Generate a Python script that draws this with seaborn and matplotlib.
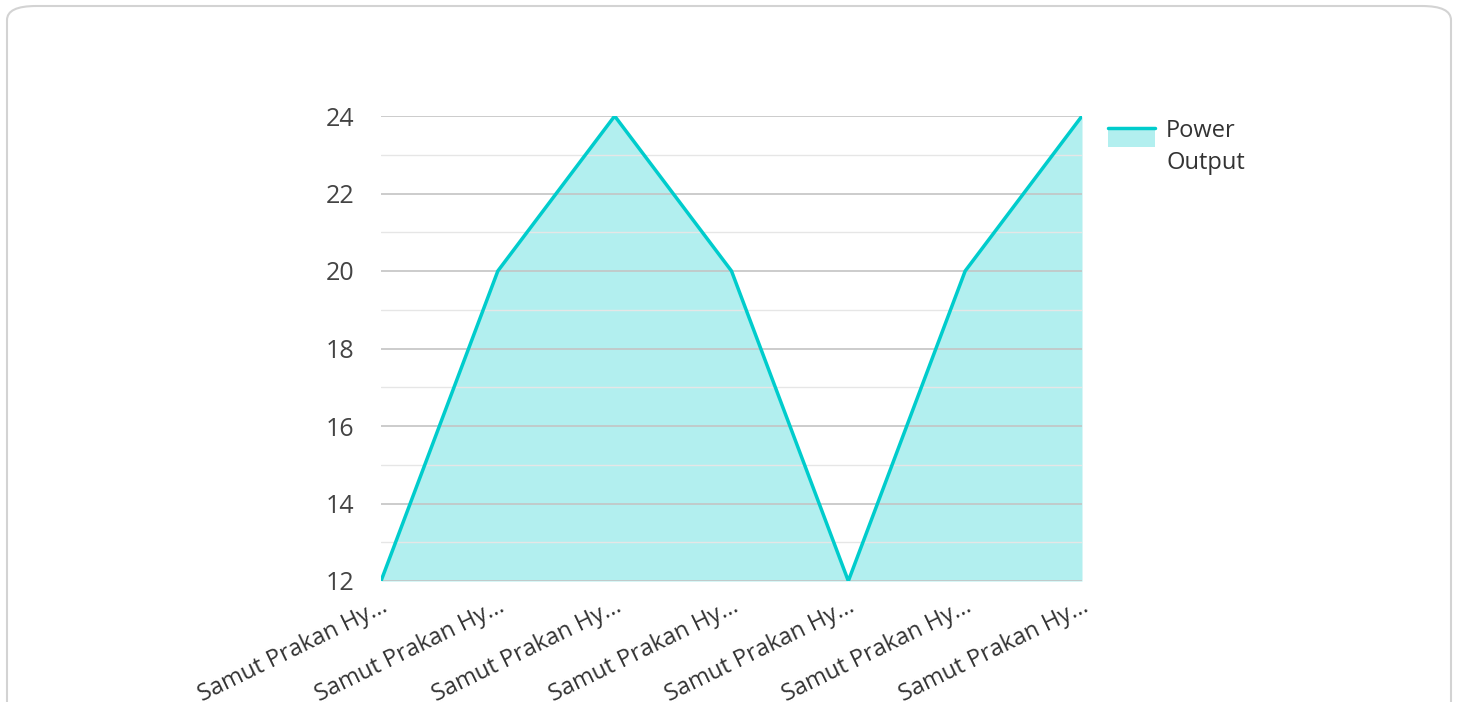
import numpy as np
import matplotlib
matplotlib.use("Agg")
import matplotlib.pyplot as plt
import seaborn as sns
from matplotlib.patches import FancyBboxPatch, Rectangle
from matplotlib.lines import Line2D
from matplotlib.legend_handler import HandlerBase

plants = ["Samut Prakan Hy…"] * 7
power_output = [12, 20, 24, 20, 12, 20, 24]
series_name = "Power\nOutput"

line_color = "#00cccc"
fill_color = "#b2efef"

sns.set_style("white")
plt.rcParams["font.family"] = ["Open Sans", "DejaVu Sans"]

fig = plt.figure(figsize=(14.58, 7.02), dpi=100)
card = FancyBboxPatch((7 / 1458, -0.05), 1444 / 1458, 1 - 6 / 702 + 0.05,
                      boxstyle="round,pad=0,rounding_size=0.02",
                      transform=fig.transFigure, facecolor="none",
                      edgecolor="#d3d3d3", linewidth=1.5, zorder=-1)
fig.patches.append(card)

ax = fig.add_axes([381 / 1458, 1 - 581 / 702, (1082 - 381) / 1458, (581 - 116) / 702])
ax.set_facecolor("none")

x = np.arange(len(power_output))
ax.fill_between(x, power_output, 12, color=fill_color, linewidth=0, zorder=1)
sns.lineplot(x=x, y=power_output, ax=ax, color=line_color, linewidth=2.5,
             zorder=3, legend=False)

ax.set_xlim(0, len(power_output) - 1)
ax.set_ylim(12, 24)
ax.set_yticks(range(12, 25, 2))
ax.set_yticks(range(13, 25, 2), minor=True)
ax.grid(which="major", axis="y", color="#c4c4c4", linewidth=1.2, zorder=2)
ax.grid(which="minor", axis="y", color="#e6e6e6", linewidth=1.0, zorder=2)
ax.set_axisbelow(False)
for s in ax.spines.values():
    s.set_visible(False)

ax.set_xticks(x)
ax.set_xticklabels(plants, rotation=26, ha="right", va="top",
                   rotation_mode="anchor", fontsize=17, color="#333333")
ax.tick_params(axis="x", length=0, pad=10)
ax.tick_params(axis="y", which="both", length=0, pad=19, labelsize=18,
               labelcolor="#444444")
ax.set_xlabel("")
ax.set_ylabel("")


class AreaHandler(HandlerBase):
    def create_artists(self, legend, orig_handle, xdescent, ydescent,
                       width, height, fontsize, trans):
        lift = fontsize * 0.55
        top = height + lift
        bot = -ydescent + lift - height * 0.35
        rect = Rectangle((-xdescent, bot), width, top - bot,
                         facecolor=fill_color, edgecolor="none", transform=trans)
        ln = Line2D([-xdescent, -xdescent + width], [-ydescent + top] * 2,
                    color=line_color, linewidth=2.5, transform=trans)
        return [rect, ln]


handle = Rectangle((0, 0), 1, 1)
leg = fig.legend([handle], [series_name], handler_map={Rectangle: AreaHandler()},
                 loc="upper left", bbox_to_anchor=(1087 / 1458, 1 - 98 / 702),
                 frameon=False, fontsize=17, handlelength=2.0, handleheight=0.55,
                 handletextpad=0.45, labelcolor="#333333")
for t in leg.get_texts():
    t.set_linespacing(1.45)

fig.savefig("out.png", dpi=100)
